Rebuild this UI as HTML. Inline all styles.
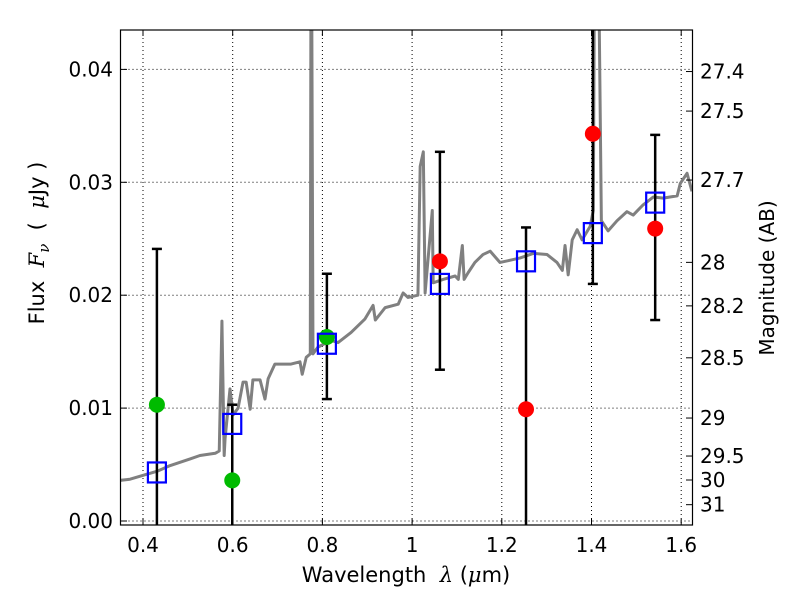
<!DOCTYPE html>
<html><head><meta charset="utf-8"><style>
html,body{margin:0;padding:0;background:#fff;overflow:hidden;width:800px;height:600px}
svg{display:block;font-family:"DejaVu Sans","Liberation Sans",sans-serif}
text{white-space:pre}
</style></head><body>
<svg id="chart" width="800" height="600" viewBox="0 0 800 600">
<defs><clipPath id="clip"><rect x="120.5" y="30" width="572" height="495"/></clipPath></defs>
<rect width="800" height="600" fill="#fff"/>
<g id="grid"></g>
<g id="spec" clip-path="url(#clip)"></g>
<g id="marks" clip-path="url(#clip)"></g>
<rect x="120.5" y="30" width="572" height="495" fill="none" stroke="#000" stroke-width="1.2"/>
<g id="axes"></g>
<text x="406" y="582" font-size="21" text-anchor="middle">Wavelength  <tspan font-style="italic" font-family="DejaVu Serif,serif">λ</tspan> (<tspan font-style="italic" font-family="DejaVu Serif,serif">μ</tspan>m)</text>
<text transform="translate(44,243) rotate(-90)" font-size="21" text-anchor="middle">Flux  <tspan font-style="italic" font-family="DejaVu Serif,serif">F</tspan><tspan font-style="italic" font-family="DejaVu Serif,serif" font-size="15" dy="5">ν</tspan><tspan dy="-5">  (  </tspan><tspan font-style="italic" font-family="DejaVu Serif,serif">μ</tspan>Jy )</text>
<text transform="translate(774,278) rotate(-90)" font-size="20" text-anchor="middle">Magnitude (AB)</text>
</svg>
<script>
const xTicks=[0.4,0.6,0.8,1.0,1.2,1.4,1.6];
const xTickLabels=["0.4","0.6","0.8","1","1.2","1.4","1.6"];
const yTicks=[0,0.01,0.02,0.03,0.04];
const yTickLabels=["0.00","0.01","0.02","0.03","0.04"];
const magTicks=[27.4,27.5,27.7,28,28.2,28.5,29,29.5,30,31];
const specWave=[0.349,0.371,0.405,0.431,0.460,0.505,0.527,0.561,0.570,0.576,0.581,0.583,0.594,0.601,0.612,0.623,0.630,0.639,0.645,0.661,0.672,0.679,0.694,0.708,0.730,0.750,0.755,0.764,0.773,0.775,0.779,0.790,0.819,0.835,0.864,0.895,0.913,0.918,0.940,0.969,0.980,0.991,1.013,1.018,1.025,1.029,1.045,1.047,1.069,1.096,1.103,1.112,1.116,1.125,1.140,1.158,1.174,1.196,1.219,1.241,1.270,1.301,1.323,1.335,1.341,1.348,1.357,1.368,1.379,1.397,1.404,1.408,1.413,1.422,1.437,1.457,1.479,1.493,1.515,1.538,1.560,1.575,1.591,1.598,1.613,1.624];
const specFlux=[0.0036,0.0037,0.0041,0.0044,0.0049,0.0055,0.0058,0.0060,0.0062,0.0177,0.0058,0.0073,0.0117,0.0094,0.0100,0.0123,0.0123,0.0099,0.0125,0.0125,0.0108,0.0126,0.0139,0.0139,0.0139,0.0141,0.0130,0.0145,0.0148,0.06,0.0148,0.0154,0.0160,0.0158,0.0167,0.0179,0.0191,0.0178,0.0189,0.0192,0.0202,0.0198,0.0200,0.0314,0.0327,0.0202,0.0275,0.0211,0.0214,0.0217,0.0214,0.0244,0.0214,0.0220,0.0229,0.0236,0.0239,0.0229,0.0231,0.0233,0.0237,0.0236,0.0229,0.0222,0.0244,0.0218,0.0249,0.0258,0.0249,0.0261,0.0275,0.06,0.06,0.0266,0.0257,0.0266,0.0274,0.0271,0.0280,0.0287,0.0286,0.0287,0.0288,0.0299,0.0308,0.0292];
const greenWave=[0.431,0.599,0.810];
const greenFlux=[0.0103,0.0036,0.0163];
const redWave=[1.062,1.254,1.403,1.542];
const redFlux=[0.0230,0.0099,0.0343,0.0259];
const boxWave=[0.431,0.599,0.810,1.062,1.254,1.403,1.542];
const boxFlux=[0.0043,0.0086,0.0157,0.0210,0.0230,0.0255,0.0282];
const errWave=[0.431,0.599,0.810,1.062,1.254,1.403,1.542];
const errLo=[-0.01,-0.01,0.0108,0.0134,-0.01,0.0210,0.0178];
const errHi=[0.0241,0.0103,0.0219,0.0327,0.0260,0.06,0.0342];
const X=v=>143+(v-0.4)/0.2*89.7;
const Y=v=>521-v/0.01*112.9;
const NS="http://www.w3.org/2000/svg";
function mk(tag,parent,attrs){const e=document.createElementNS(NS,tag);for(const k in attrs)e.setAttribute(k,attrs[k]);parent.appendChild(e);return e;}
const grid=document.getElementById('grid'),axes=document.getElementById('axes'),spec=document.getElementById('spec'),marks=document.getElementById('marks');
xTicks.forEach((t,i)=>{const x=X(t);
 const g=mk('line',grid,{x1:x,x2:x,y1:30,y2:525,stroke:'#000','stroke-width':1,'stroke-dasharray':'1,3'});
 
 mk('line',axes,{x1:x,x2:x,y1:525,y2:519,stroke:'#000'});mk('line',axes,{x1:x,x2:x,y1:30,y2:36,stroke:'#000'});
 const tx=mk('text',axes,{x:x,y:552,'font-size':20,'text-anchor':'middle'});tx.textContent=xTickLabels[i];
 });
yTicks.forEach((t,i)=>{const y=Y(t);
 const g=mk('line',grid,{x1:120.5,x2:692.5,y1:y,y2:y,stroke:'#000','stroke-width':1,'stroke-dasharray':'1,3'});
 
 mk('line',axes,{x1:120.5,x2:127,y1:y,y2:y,stroke:'#000'});
 const tx=mk('text',axes,{x:113,y:y+7,'font-size':20,'text-anchor':'end'});tx.textContent=yTickLabels[i];
 });
magTicks.forEach(m=>{const y=Y(Math.pow(10,(23.9-m)/2.5));
 mk('line',axes,{x1:692.5,x2:686,y1:y,y2:y,stroke:'#000'});
 const tx=mk('text',axes,{x:700,y:y+7,'font-size':20});tx.textContent=String(m);
 });
const pl=mk('polyline',spec,{points:specWave.map((w,i)=>X(w)+','+Y(specFlux[i])).join(' '),fill:'none',stroke:'#808080','stroke-width':3,'stroke-linejoin':'round'});

errWave.forEach((w,i)=>{const x=X(w),y1=Y(errLo[i]),y2=Y(errHi[i]);
 const l=mk('line',marks,{x1:x,x2:x,y1:y1,y2:y2,stroke:'#000','stroke-width':2.5});
 
 mk('line',marks,{x1:x-5,x2:x+5,y1:y1,y2:y1,stroke:'#000','stroke-width':2.5});
 mk('line',marks,{x1:x-5,x2:x+5,y1:y2,y2:y2,stroke:'#000','stroke-width':2.5});});
greenWave.forEach((w,i)=>{const c=mk('circle',marks,{cx:X(w),cy:Y(greenFlux[i]),r:8,fill:'#00bb00'});
 });
redWave.forEach((w,i)=>{const c=mk('circle',marks,{cx:X(w),cy:Y(redFlux[i]),r:8,fill:'#ff0000'});
 });
boxWave.forEach((w,i)=>{const r=mk('rect',marks,{x:X(w)-9,y:Y(boxFlux[i])-10,width:18,height:20,fill:'none',stroke:'#0000ff','stroke-width':2.2});
 });
</script>
</body></html>
